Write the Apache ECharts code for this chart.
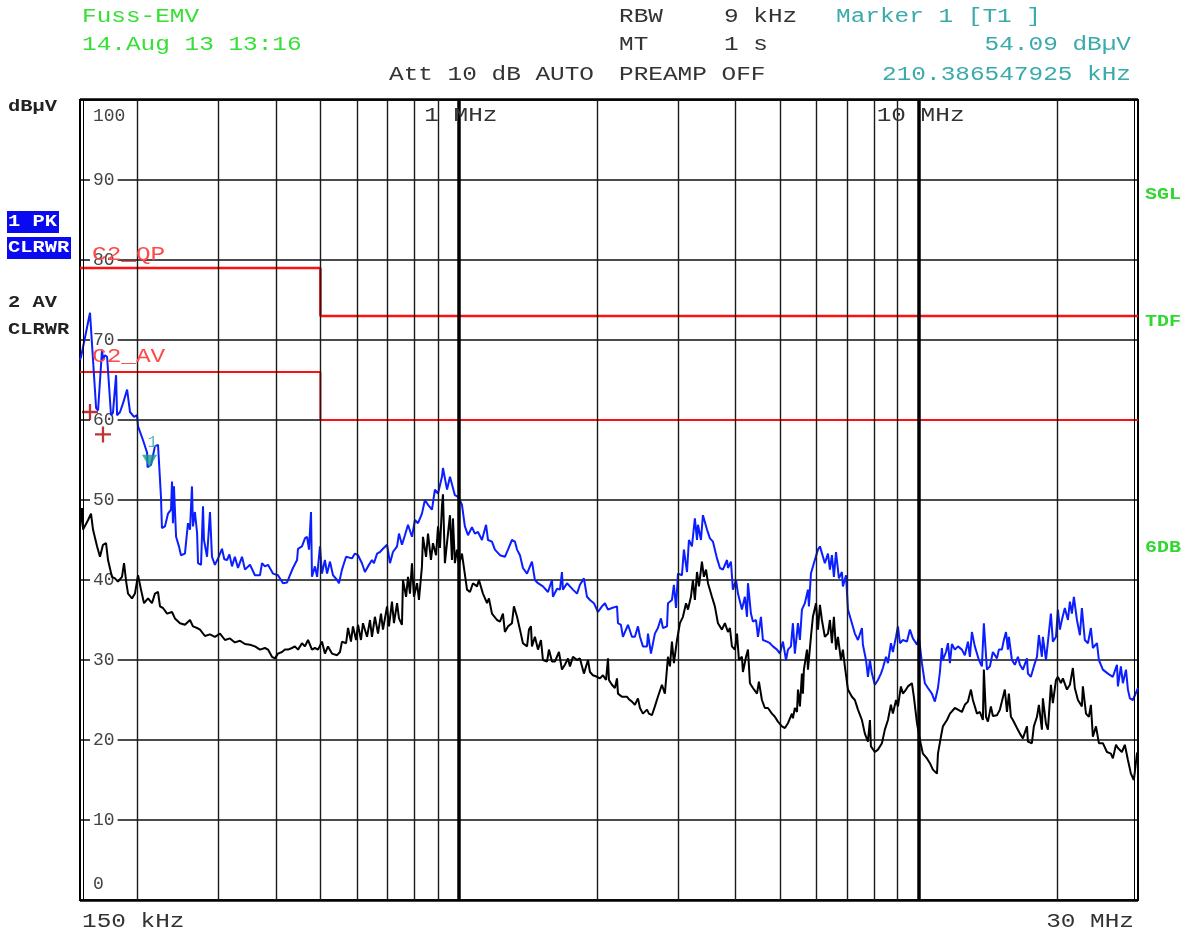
<!DOCTYPE html>
<html>
<head>
<meta charset="utf-8">
<script src="https://cdn.jsdelivr.net/npm/echarts@6/dist/echarts.min.js"></script>
<style>
  html, body { margin: 0; padding: 0; background: #fff; }
  #chart { width: 1187px; height: 934px; }
</style>
</head>
<body>
<div id="chart"></div>
<script>
// ---- sweep / axis settings ----
const startKHz = 150;
const stopKHz = 30000;
const levelMin = 0;
const levelMax = 100;
const levelStep = 10;
const gridFreqsKHz = [200, 300, 400, 500, 600, 700, 800, 900,
  2000, 3000, 4000, 5000, 6000, 7000, 8000, 9000, 20000];
const decadeFreqsKHz = [1000, 10000];
const decadeLabels = ['1 MHz', '10 MHz'];

// ---- CISPR limit lines [kHz, dBµV] ----
const qpLimit = [[150, 79], [500, 79], [500, 73], [30000, 73]];
const avLimit = [[150, 66], [500, 66], [500, 60], [30000, 60]];

// ---- trace 1: peak detector [kHz, dBµV] ----
const pkTrace = [
  [150,67.5],[150.8,67.9],[157.7,73.4],[162.6,61.5],[164.2,61.2],[167.5,68.8],[168.3,67.5],[169.9,68.1],[171.8,67.9],
  [175.2,60.6],[176.9,60.9],[179.7,65.6],[180.6,60.6],[183.3,61.0],[186.1,62.1],[189.9,63.8],[192.7,61.0],[196.6,60.4],
  [199.6,60.6],[200.6,59.2],[205.6,57.5],[209.9,55.9],[210.4,54.1],[214.1,54.4],[218.3,56.7],[221.7,56.9],[225.0,50.4],
  [226.1,46.5],[229.5,46.7],[233.1,48.3],[236.6,48.8],[237.8,52.3],[238.9,47.1],[240.1,51.7],[242.7,45.4],[246.2,44.2],
  [248.7,43.1],[251.2,42.9],[253.7,43.3],[257.6,47.1],[260.2,46.3],[262.8,51.7],[264.1,46.7],[266.7,48.5],[269.6,45.9],
  [270.9,42.1],[275.0,41.9],[277.7,49.2],[279.1,45.0],[283.4,42.9],[287.6,48.5],[290.5,42.9],[294.8,41.9],[300.0,42.8],
  [305.4,43.9],[309.0,42.6],[313.3,42.5],[317.0,43.2],[321.1,41.7],[325.8,42.9],[330.9,41.5],[337.6,42.9],[342.7,41.3],
  [351.4,41.9],[360.2,40.6],[369.5,40.6],[373.2,42.1],[378.7,41.7],[384.6,41.9],[394.2,40.8],[404.3,40.6],[414.5,39.6],
  [423.1,39.7],[429.3,40.6],[435.7,41.5],[444.8,42.5],[446.9,43.9],[455.9,44.2],[462.7,45.2],[467.7,45.4],[472.2,43.8],
  [477.0,48.5],[479.3,40.4],[486.5,41.7],[491.7,40.4],[498.9,44.2],[503.9,40.8],[511.4,42.5],[516.9,40.8],[524.6,42.3],
  [532.5,40.6],[543.5,40.0],[548.7,39.6],[557.0,41.3],[568.6,42.9],[574.1,43.1],[585.6,42.7],[594.3,43.3],[603.6,43.1],
  [615.7,42.1],[624.8,41.0],[634.6,41.7],[647.3,42.5],[653.7,42.1],[664.0,43.3],[673.8,43.5],[683.9,43.9],[698.1,44.4],
  [708.4,42.1],[719.0,43.5],[733.9,44.2],[741.0,45.8],[752.2,44.4],[763.4,45.6],[775.3,46.9],[790.8,45.4],[802.6,47.5],
  [815.1,47.1],[831.4,48.3],[843.8,50.0],[857.0,49.4],[874.2,48.8],[887.1,51.3],[901.0,50.8],[919.0,52.9],[923.6,54.0],
  [942.7,51.3],[956.6,52.9],[966.2,52.7],[980.5,50.6],[995.8,50.4],[1015.8,49.4],[1030.8,46.7],[1046.9,45.6],[1068,46.6],
  [1083.8,45.8],[1100.8,46.0],[1122.8,45.0],[1146.2,46.9],[1157.3,45.0],[1180.5,44.8],[1198,43.8],[1228.8,43.1],
  [1259.5,42.9],[1279.2,43.8],[1304.8,45.0],[1324.2,44.8],[1338.4,43.8],[1358.2,43.1],[1378.6,41.5],[1407.1,40.8],
  [1428,41.7],[1442.3,42.3],[1463.7,40.0],[1486.5,39.6],[1523.8,39.2],[1562.9,38.5],[1594.2,40.0],[1602.1,37.9],
  [1635.2,38.9],[1659.4,38.8],[1676,41.0],[1684.3,38.8],[1719.1,39.6],[1744.6,39.2],[1770.8,38.8],[1807.4,38.3],
  [1834.2,39.4],[1870.9,40.2],[1900.2,37.9],[1928.4,37.5],[1967,37.1],[2007.4,36.0],[2047.7,36.7],[2078.1,37.1],
  [2110.5,36.3],[2152.8,36.5],[2208.2,36.7],[2218.9,34.6],[2252.1,34.4],[2274.5,32.9],[2332.8,34.4],[2379.6,32.9],
  [2414.9,32.9],[2452.6,34.2],[2477,32.9],[2514.2,31.7],[2566.2,31.7],[2578.6,33.3],[2617.2,30.8],[2669.3,33.3],
  [2710,34.0],[2751.6,35.2],[2779,34.0],[2836.5,34.2],[2850.1,37.1],[2907.3,37.5],[2936.1,39.4],[2967.7,36.5],
  [2996.5,40.8],[3056.6,40.6],[3086.8,43.8],[3135.2,41.0],[3165.5,45.0],[3213.5,44.2],[3261.2,47.7],[3296.2,45.0],
  [3312.1,46.9],[3361.8,45.0],[3395.3,48.1],[3465.5,46.3],[3516.8,45.2],[3569.6,44.8],[3643.4,42.7],[3697.4,41.5],
  [3752.9,41.3],[3830.5,42.5],[3849,41.5],[3906.7,42.3],[3945.6,38.8],[4007.8,40.0],[4046.7,38.3],[4086.9,38.3],
  [4127.8,36.3],[4189.1,37.9],[4234,35.4],[4254.5,39.6],[4318.2,35.8],[4361.1,34.8],[4429.9,35.0],[4472.9,32.9],
  [4539.9,35.4],[4585.1,32.5],[4679.9,32.3],[4749.3,32.1],[4820.5,31.7],[4920.3,31.3],[4993.2,30.8],[5068.1,32.3],
  [5147.8,30.0],[5197.9,31.3],[5275.8,31.7],[5328.3,34.6],[5380.8,30.8],[5464.8,34.6],[5519.1,32.5],[5574.3,36.3],
  [5657.1,37.1],[5745.4,38.8],[5773,36.7],[5831.5,40.8],[5918.6,42.1],[6040.4,43.8],[6100.4,44.2],[6161.4,44.2],
  [6252.9,42.1],[6350.5,43.3],[6413.7,41.3],[6477.8,43.1],[6542,40.4],[6612.5,43.5],[6708.7,40.2],[6810.4,41.0],
  [6844.1,39.2],[6952,40.6],[7019.5,36.3],[7160.1,34.6],[7266.4,33.3],[7379.9,32.5],[7527.7,34.0],[7565,31.9],
  [7683.3,30.0],[7758.8,27.9],[7835.9,30.0],[7914.3,28.3],[8031.8,26.9],[8157.2,27.5],[8279.5,28.3],[8361.9,29.0],
  [8493.7,30.4],[8576.1,29.6],[8704.6,32.1],[8791.2,31.0],[8929.8,32.9],[9016.4,34.2],[9106,32.1],[9242.6,32.5],
  [9433.8,32.3],[9573.6,33.8],[9717.2,32.7],[9918.2,31.9],[10014,32.9],[10166,29.6],[10317,27.1],[10478,26.5],
  [10688,25.8],[10847,24.8],[11016,26.5],[11125,28.5],[11237,31.5],[11292,30.0],[11470,31.0],[11581,32.1],[11697,29.6],
  [11814,32.0],[11989,31.3],[12177,31.7],[12420,31.3],[12604,30.6],[12801,32.3],[12929,30.4],[13058,33.5],[13252,31.7],
  [13524,30.0],[13728,29.2],[13864,34.6],[14081,28.8],[14290,29.2],[14504,31.0],[14804,30.2],[14947,31.3],[15174,31.3],
  [15324,32.5],[15490,33.5],[15640,31.3],[15715,32.9],[15954,30.0],[16191,29.4],[16444,30.4],[16607,29.4],[16856,28.8],
  [17205,30.2],[17288,28.3],[17546,27.9],[17808,29.2],[18088,30.4],[18262,33.1],[18540,30.4],[18631,32.9],[18925,30.0],
  [19109,30.0],[19395,35.8],[19587,32.3],[19896,32.9],[20089,36.3],[20289,33.8],[20492,35.0],[20796,36.5],[21121,35.0],
  [21331,37.3],[21544,35.8],[21758,37.9],[22099,35.0],[22426,33.1],[22650,36.5],[22987,32.5],[23345,32.1],[23696,34.0],
  [23932,31.5],[24427,32.1],[24663,30.0],[25161,28.8],[25805,28.3],[26452,27.9],[26999,29.4],[27130,26.7],[27537,29.2],
  [27811,27.1],[28249,28.8],[28523,26.3],[28807,25.2],[29239,25.0],[30000,26.5]
];

// ---- trace 2: average detector [kHz, dBµV] ----
const avTrace = [
  [150,46.5],[151.5,49.0],[152.3,46.3],[156.2,47.5],[158.5,48.3],[160.1,46.3],[163.4,44.2],[165.8,42.9],[168.3,44.4],
  [170.9,44.6],[172.6,42.5],[176.0,40.4],[178.7,40.2],[181.4,39.8],[185.1,40.4],[187.0,42.1],[189.0,39.8],[190.8,38.3],
  [194.6,37.7],[197.5,38.3],[200.6,40.6],[203.6,38.8],[206.7,37.1],[210.9,37.7],[215.1,37.1],[218.3,38.3],[221.7,38.5],
  [223.9,36.7],[227.3,36.5],[232.0,35.8],[237.8,36.0],[241.3,35.2],[247.5,34.6],[253.7,34.4],[260.2,35.0],[264.1,34.2],
  [269.6,34.0],[273.6,33.8],[280.4,33.0],[287.6,33.2],[294.8,32.9],[302.4,33.3],[310.0,32.5],[317.9,32.7],[325.8,32.2],
  [334.3,32.4],[342.7,32.0],[351.4,31.9],[360.2,31.7],[369.5,31.3],[378.7,31.5],[384.6,31.3],[392.3,30.4],[398.1,30.2],
  [404.3,30.8],[412.5,31.0],[418.6,31.3],[425.1,31.3],[433.6,31.5],[440.0,31.7],[446.9,31.3],[455.9,32.1],[462.7,31.7],
  [469.9,32.5],[479.3,31.3],[486.5,31.5],[494.1,31.3],[503.9,32.3],[511.4,30.8],[519.3,31.7],[529.8,30.8],[543.5,30.6],
  [551.5,31.0],[557.0,32.3],[568.6,32.1],[574.1,34.0],[582.7,32.3],[588.5,34.2],[597.8,32.5],[603.6,34.4],[612.6,32.5],
  [618.7,34.6],[631.5,32.9],[640.9,35.0],[647.3,32.9],[656.9,35.4],[667.2,33.3],[677.2,35.8],[683.9,33.8],[698.1,36.7],
  [704.8,34.2],[715.5,37.3],[722.6,34.6],[733.9,37.1],[741.0,35.2],[752.2,34.4],[756.0,40.0],[767.9,37.9],[775.3,40.4],
  [783.0,38.3],[790.8,42.1],[798.7,37.9],[811.2,39.6],[819.0,37.5],[831.4,41.7],[835.6,45.4],[848.7,42.9],[857.0,45.8],
  [869.8,42.5],[878.5,44.6],[892.3,43.1],[901.0,46.7],[909.9,44.0],[919.0,49.2],[923.6,50.7],[932.6,42.1],[947.2,45.8],
  [956.6,48.1],[966.2,42.5],[971.0,47.7],[980.5,42.1],[991.0,43.8],[1000.6,41.9],[1015.8,43.3],[1025.8,43.1],
  [1041.9,38.8],[1057.4,38.5],[1073.3,39.6],[1095.5,39.2],[1106.0,40.0],[1128.4,38.3],[1151.7,37.1],[1162.8,37.7],
  [1180.5,35.8],[1210.9,35.0],[1228.8,34.8],[1247.2,35.8],[1259.5,33.5],[1279.2,34.2],[1304.8,34.6],[1317.7,36.7],
  [1338.4,35.4],[1358.2,33.8],[1378.6,32.1],[1407.1,31.7],[1420.7,33.8],[1435.1,34.2],[1442.3,31.7],[1463.7,32.9],
  [1486.5,31.3],[1508.8,32.5],[1523.8,30.0],[1555.3,29.8],[1570.4,31.3],[1594.2,29.8],[1617.9,29.8],[1651.0,31.0],
  [1676.0,28.8],[1700.9,29.4],[1727.4,30.2],[1744.6,29.2],[1770.8,30.4],[1807.4,30.0],[1834.2,30.2],[1852.5,30.4],
  [1870.9,28.3],[1909.4,30.0],[1928.4,28.5],[1957.3,28.1],[1997.8,27.9],[2027.4,27.7],[2057.8,28.1],[2090.2,27.5],
  [2110.5,30.2],[2120.7,27.5],[2152.8,26.9],[2184.8,26.5],[2208.2,27.7],[2218.9,25.8],[2263.3,25.4],[2321.6,25.4],
  [2344.0,25.1],[2379.6,24.8],[2414.9,24.4],[2452.6,25.2],[2477.0,24.0],[2514.2,23.3],[2566.2,23.8],[2591.0,23.3],
  [2630.2,23.1],[2669.3,24.2],[2710.0,25.4],[2765.3,26.9],[2806.3,25.8],[2850.1,30.4],[2878.5,29.2],[2907.3,32.3],
  [2936.1,29.6],[2982.1,32.5],[3026.3,34.6],[3071.7,35.4],[3120.1,37.1],[3150.4,36.3],[3197.6,37.9],[3229.4,40.0],
  [3261.2,37.5],[3296.2,41.0],[3328.1,39.2],[3378.6,42.3],[3412.0,40.4],[3448.8,41.3],[3482.2,39.6],[3552.0,37.9],
  [3604.7,36.7],[3660.9,34.6],[3734.4,33.8],[3789.8,34.6],[3849.0,33.5],[3887.3,34.0],[3926.2,31.7],[3984.5,31.3],
  [4027.2,33.3],[4066.1,30.0],[4127.8,30.4],[4148.2,28.5],[4213.6,30.4],[4254.5,31.3],[4296.7,27.1],[4361.1,26.5],
  [4451.4,25.8],[4494.3,27.3],[4562.5,25.0],[4630.2,24.0],[4702.5,24.0],[4796.8,23.3],[4868.0,22.9],[4943.0,22.3],
  [5043.1,21.7],[5118.0,21.5],[5197.9,22.1],[5302.1,23.3],[5328.3,22.7],[5380.8,24.0],[5438.6,23.5],[5464.8,26.3],
  [5519.1,24.2],[5574.3,28.3],[5601.9,25.8],[5629.5,28.8],[5717.8,31.3],[5745.4,28.8],[5831.5,32.9],[5889.5,35.4],
  [5982.4,37.1],[6040.4,33.8],[6100.4,36.9],[6161.4,35.0],[6252.9,32.9],[6350.5,33.3],[6413.7,35.0],[6477.8,32.1],
  [6542.0,35.4],[6612.5,31.3],[6676.7,32.9],[6776.7,30.0],[6844.1,31.3],[6911.6,29.2],[7019.5,26.3],[7160.1,25.4],
  [7266.4,25.0],[7379.9,23.8],[7527.7,22.5],[7639.5,20.8],[7758.8,19.8],[7835.9,22.5],[7875.1,19.2],[8031.8,18.5],
  [8157.2,18.8],[8320.7,19.6],[8444.3,21.3],[8576.1,22.5],[8704.6,24.4],[8791.2,23.3],[8929.8,25.0],[9016.4,24.2],
  [9151.5,26.7],[9242.6,25.8],[9388.3,26.3],[9479.3,26.7],[9669.3,27.1],[9765.1,25.4],[9918.2,22.1],[10065,20.0],
  [10216,18.3],[10427,17.7],[10582,17.1],[10741,16.3],[10963,15.8],[11016,18.3],[11181,20.4],[11292,21.7],[11526,22.5],
  [11697,23.3],[11989,24.0],[12177,23.8],[12420,23.5],[12604,24.4],[12801,24.8],[12994,26.3],[13123,25.0],[13394,23.3],
  [13592,23.5],[13796,22.5],[13864,28.8],[14013,22.9],[14149,22.3],[14361,24.2],[14504,23.0],[14804,23.1],[15024,23.8],
  [15174,24.0],[15400,26.3],[15565,23.5],[15715,25.8],[15875,22.9],[16033,22.5],[16365,21.5],[16607,20.8],[16856,20.2],
  [17205,21.7],[17288,19.8],[17634,19.6],[17808,21.7],[18088,22.9],[18262,24.4],[18540,21.3],[18631,25.2],[18925,22.0],
  [19109,21.3],[19395,26.9],[19587,24.6],[19896,27.5],[20089,27.9],[20391,27.1],[20594,27.7],[21019,26.3],[21331,26.9],
  [21651,29.0],[21864,26.5],[22206,25.0],[22650,24.2],[22763,26.7],[23121,23.3],[23458,22.9],[23696,24.4],[23932,20.4],
  [24309,21.7],[24663,19.6],[25161,19.6],[25681,18.5],[26192,18.3],[26452,17.7],[26869,19.4],[27130,19.0],[27674,18.5],
  [28085,19.4],[28523,17.5],[28951,15.8],[29383,15.0],[29844,18.3],[30000,18.5]
];

// ---- marker and final measurement points [kHz, dBµV] ----
const marker1 = [210.386547925, 54.09];
const finalPoints = [[157.7, 61.0], [168.3, 58.2]];

// ---- text styling ----
const MONO = '"Liberation Mono", "DejaVu Sans Mono", monospace';
const GREEN = '#36e036';
const TEAL = '#3aaaaa';
const INK = '#333333';

function label(x, y, str, o = {}) {
  const font = `${o.weight || 'normal'} ${o.size || 20}px ${MONO}`;
  const align = o.align || 'left';
  return {
    type: 'text', x, y, z: 100, silent: true,
    scaleX: o.sx == null ? 1.22 : o.sx,
    style: {
      text: str, fill: o.color || INK, font,
      textAlign: align, align,
      textVerticalAlign: 'middle', verticalAlign: 'middle'
    }
  };
}

const chart = echarts.init(document.getElementById('chart'));

chart.setOption({
  animation: false,
  backgroundColor: '#ffffff',
  grid: {
    left: 80, right: 49, top: 100, bottom: 34,
    show: true, borderColor: '#000', borderWidth: 2, backgroundColor: 'transparent'
  },
  xAxis: {
    type: 'log', logBase: 10, min: startKHz, max: stopKHz,
    axisLine: { show: false }, axisTick: { show: false },
    axisLabel: { show: false }, splitLine: { show: false }
  },
  yAxis: {
    type: 'value', min: levelMin, max: levelMax, interval: levelStep,
    axisLine: { show: false }, axisTick: { show: false },
    splitLine: { show: true, lineStyle: { color: '#111', width: 1.6 } },
    axisLabel: {
      inside: true, margin: 10,
      formatter: v => v === levelMax ? '{top|' + v + '}' : v === levelMin ? '{bot|' + v + '}' : '{mid|' + v + '}',
      rich: {
        mid: { fontFamily: MONO, fontSize: 18, color: '#444', backgroundColor: '#fff', padding: [0, 3] },
        top: { fontFamily: MONO, fontSize: 18, color: '#444', padding: [32, 3, 0, 3] },
        bot: { fontFamily: MONO, fontSize: 18, color: '#444', padding: [0, 3, 32, 3] }
      }
    }
  },
  series: [
    {
      name: 'grid', type: 'line', data: [], z: 1, silent: true,
      markLine: {
        silent: true, symbol: ['none', 'none'], label: { show: false }, animation: false,
        lineStyle: { color: '#1a1a1a', width: 1.4, type: 'solid' },
        data: gridFreqsKHz.map(f => ({ xAxis: f }))
          .concat(decadeFreqsKHz.map(f => ({ xAxis: f, lineStyle: { color: '#000', width: 3.5, type: 'solid' } })))
      }
    },
    {
      name: 'C2_QP', type: 'line', data: qpLimit, z: 3, silent: true,
      symbol: 'none', lineStyle: { color: '#ff1010', width: 2.6 }
    },
    {
      name: 'C2_AV', type: 'line', data: avLimit, z: 3, silent: true,
      symbol: 'none', lineStyle: { color: '#ff1010', width: 2 }
    },
    {
      name: '1 PK', type: 'line', data: pkTrace, z: 4, silent: true,
      symbol: 'none', lineStyle: { color: '#0a1eff', width: 2 }
    },
    {
      name: '2 AV', type: 'line', data: avTrace, z: 5, silent: true,
      symbol: 'none', lineStyle: { color: '#000', width: 2 }
    },
    {
      name: 'final', type: 'scatter', data: finalPoints, z: 6, silent: true,
      symbol: 'path://M6,0H8V6H14V8H8V14H6V8H0V6H6Z', symbolSize: 16,
      itemStyle: { color: '#b00000' }
    },
    {
      name: 'marker', type: 'scatter', data: [marker1], z: 7, silent: true,
      symbol: 'triangle', symbolRotate: 180, symbolSize: [15, 13], symbolOffset: [2, -6],
      itemStyle: { color: '#1c9a8c' },
      label: {
        show: true, formatter: '1', position: 'top', distance: 2, offset: [3, -2],
        color: TEAL, fontFamily: MONO, fontSize: 17
      }
    }
  ]
});

// Frame details, decade labels and annotation texts placed from the axes
const topLeft = chart.convertToPixel({ gridIndex: 0 }, [startKHz, levelMax]);
const botRight = chart.convertToPixel({ gridIndex: 0 }, [stopKHz, levelMin]);
const gx0 = topLeft[0], gy0 = topLeft[1], gx1 = botRight[0], gy1 = botRight[1];
const limitQpY = chart.convertToPixel({ yAxisIndex: 0 }, qpLimit[0][1]);
const limitAvY = chart.convertToPixel({ yAxisIndex: 0 }, avLimit[0][1]);

const graphics = [
  { type: 'line', z: 90, silent: true, shape: { x1: gx0 + 3.5, y1: gy0, x2: gx0 + 3.5, y2: gy1 }, style: { stroke: '#000', lineWidth: 1 } },
  { type: 'line', z: 90, silent: true, shape: { x1: gx1 - 3.5, y1: gy0, x2: gx1 - 3.5, y2: gy1 }, style: { stroke: '#000', lineWidth: 1 } },
  { type: 'line', z: 90, silent: true, shape: { x1: gx0, y1: gy0 - 1, x2: gx1, y2: gy0 - 1 }, style: { stroke: '#000', lineWidth: 1.5 } },
  { type: 'line', z: 90, silent: true, shape: { x1: gx0, y1: gy1 + 1, x2: gx1, y2: gy1 + 1 }, style: { stroke: '#000', lineWidth: 1.5 } },

  // header
  label(82, 17, 'Fuss-EMV', { color: GREEN }),
  label(82, 45, '14.Aug 13 13:16', { color: GREEN }),
  label(389, 75, 'Att 10 dB AUTO'),
  label(619, 17, 'RBW'),
  label(724, 17, '9 kHz'),
  label(619, 45, 'MT'),
  label(724, 45, '1 s'),
  label(619, 75, 'PREAMP OFF'),
  label(836, 17, 'Marker 1 [T1 ]', { color: TEAL }),
  label(1131, 45, '54.09 dBµV', { color: TEAL, align: 'right' }),
  label(1131, 75, '210.386547925 kHz', { color: TEAL, align: 'right' }),

  // left side legend
  label(8, 107, 'dBµV', { weight: 'bold', size: 17, sx: 1.2, color: '#222' }),
  { type: 'rect', z: 95, silent: true, shape: { x: 7, y: 211, width: 52, height: 22 }, style: { fill: '#0a0af0' } },
  { type: 'rect', z: 95, silent: true, shape: { x: 7, y: 237, width: 64, height: 22 }, style: { fill: '#0a0af0' } },
  label(8, 222, '1 PK', { weight: 'bold', size: 17, sx: 1.2, color: '#fff' }),
  label(8, 248, 'CLRWR', { weight: 'bold', size: 17, sx: 1.2, color: '#fff' }),
  label(8, 303, '2 AV', { weight: 'bold', size: 17, sx: 1.2, color: '#222' }),
  label(8, 330, 'CLRWR', { weight: 'bold', size: 17, sx: 1.2, color: '#222' }),

  // right side status
  label(1145, 195, 'SGL', { weight: 'bold', size: 16, sx: 1.25, color: '#2ed82e' }),
  label(1145, 322, 'TDF', { weight: 'bold', size: 16, sx: 1.25, color: '#2ed82e' }),
  label(1145, 548, '6DB', { weight: 'bold', size: 16, sx: 1.25, color: '#2ed82e' }),

  // limit line names
  label(gx0 + 12, limitQpY - 13, 'C2_QP', { color: '#ff4a4a' }),
  label(gx0 + 12, limitAvY - 15, 'C2_AV', { color: '#ff4a4a' }),

  // span
  label(82, 922, '150 kHz'),
  label(1134, 922, '30 MHz', { align: 'right' })
];

decadeFreqsKHz.forEach((f, i) => {
  const px = chart.convertToPixel({ xAxisIndex: 0 }, f);
  graphics.push(label(px + 2, gy0 + 16, decadeLabels[i], { align: 'center' }));
});

chart.setOption({ graphic: graphics });
</script>
</body>
</html>
